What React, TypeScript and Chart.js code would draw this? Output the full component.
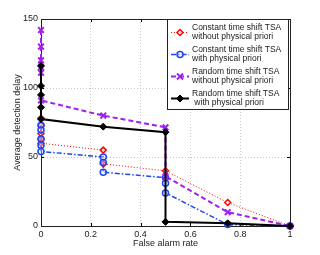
import React, { useEffect, useRef } from "react";
import { Chart, registerables } from "chart.js";

Chart.register(...registerables);

const xTicks = [0, 0.2, 0.4, 0.6, 0.8, 1];
const yTicks = [0, 50, 100, 150];

const seriesNames = [
  ["Constant time shift TSA", "without physical priori"],
  ["Constant time shift TSA", "with physical priori"],
  ["Random time shift TSA", "without physical priori"],
  ["Random time shift TSA", " with physical priori"],
];

const redX = [0, 0, 0, 0, 0, 0.25, 0.25, 0.5, 0.75, 1];
const redY = [78, 73, 67, 63, 60, 55, 45, 40, 17, 0];

const blueX = [0, 0, 0, 0, 0, 0.25, 0.25, 0.25, 0.5, 0.5, 0.5, 0.75, 1];
const blueY = [73, 69.5, 63, 58.5, 54, 50, 46, 39, 35, 31, 24, 1, 0];

const purpleX = [0, 0, 0, 0, 0, 0, 0.25, 0.5, 0.5, 0.75, 1];
const purpleY = [142, 130, 120, 115, 111, 91, 80, 71.5, 36, 10, 0];

const blackX = [0, 0, 0, 0, 0, 0.25, 0.5, 0.5, 0.75, 1];
const blackY = [116, 101.5, 95, 86, 77.5, 72, 68, 3, 2, 0];

const FONT = "'Liberation Sans', Arial, Helvetica, sans-serif";

const zip = (xs: number[], ys: number[]) => xs.map((x, i) => ({ x, y: ys[i] }));

const RED = "rgb(255,0,0)";
const BLUE = "rgb(30,70,240)";
const PURPLE = "rgb(160,32,240)";
const BLACK = "rgb(0,0,0)";

function drawMarker(ctx: CanvasRenderingContext2D, style: string, x: number, y: number, r: number, color: string, fill: string, lw: number) {
  ctx.save();
  ctx.setLineDash([]);
  ctx.strokeStyle = color;
  ctx.fillStyle = fill;
  ctx.lineWidth = lw;
  ctx.beginPath();
  if (style === "rectRot") {
    ctx.moveTo(x, y - r);
    ctx.lineTo(x + r, y);
    ctx.lineTo(x, y + r);
    ctx.lineTo(x - r, y);
    ctx.closePath();
    ctx.fill();
    ctx.stroke();
  } else if (style === "circle") {
    ctx.arc(x, y, r, 0, Math.PI * 2);
    ctx.fill();
    ctx.stroke();
  } else if (style === "crossRot") {
    const d = r * 0.75;
    ctx.moveTo(x - d, y - d);
    ctx.lineTo(x + d, y + d);
    ctx.moveTo(x + d, y - d);
    ctx.lineTo(x - d, y + d);
    ctx.stroke();
  }
  ctx.restore();
}

const framePlugin = {
  id: "frame",
  beforeDatasetsDraw(chart: any) {
    const ctx: CanvasRenderingContext2D = chart.ctx;
    const { left, right, top, bottom } = chart.chartArea;
    const xs = chart.scales.x;
    const ys = chart.scales.y;
    ctx.save();
    ctx.strokeStyle = "#000";
    ctx.lineWidth = 1;
    ctx.beginPath();
    xTicks.forEach((t) => {
      const px = Math.round(xs.getPixelForValue(t)) + 0.5;
      ctx.moveTo(px, bottom);
      ctx.lineTo(px, bottom - 3);
      ctx.moveTo(px, top);
      ctx.lineTo(px, top + 3);
    });
    yTicks.forEach((t) => {
      const py = Math.round(ys.getPixelForValue(t)) + 0.5;
      ctx.moveTo(left, py);
      ctx.lineTo(left + 3, py);
      ctx.moveTo(right, py);
      ctx.lineTo(right - 3, py);
    });
    ctx.stroke();
    ctx.strokeStyle = "#222";
    ctx.strokeRect(Math.round(left) + 0.5, Math.round(top) + 0.5, Math.round(right - left), Math.round(bottom - top));
    ctx.restore();
  },
  afterDraw(chart: any) {
    const ctx: CanvasRenderingContext2D = chart.ctx;
    ctx.save();
    const lx = 167, ly = 19, lw = 121, lh = 90;
    ctx.fillStyle = "#fff";
    ctx.fillRect(lx, ly, lw, lh);
    ctx.strokeStyle = "#222";
    ctx.lineWidth = 1;
    ctx.strokeRect(lx + 0.5, ly + 0.5, lw, lh);
    chart.data.datasets.forEach((ds: any, i: number) => {
      const cy = 32.5 + 22 * i;
      ctx.save();
      ctx.strokeStyle = ds.borderColor;
      ctx.lineWidth = ds.borderWidth;
      ctx.setLineDash(ds.borderDash || []);
      ctx.beginPath();
      ctx.moveTo(171, cy);
      ctx.lineTo(189, cy);
      ctx.stroke();
      ctx.restore();
      drawMarker(ctx, ds.pointStyle, 180, cy, ds.pointRadius, ds.pointBorderColor, ds.pointBackgroundColor, ds.pointBorderWidth);
      ctx.fillStyle = "#222";
      ctx.font = `8.5px ${FONT}`;
      ctx.textBaseline = "middle";
      ctx.textAlign = "left";
      const names = seriesNames[i];
      ctx.fillText(names[0], 192, cy - 4.5);
      ctx.fillText(names[1], 192, cy + 4.5);
    });
    ctx.restore();
  },
};

export default function App() {
  const ref = useRef<HTMLCanvasElement>(null);
  useEffect(() => {
    if (!ref.current) return;
    const chart = new Chart(ref.current, {
      type: "scatter",
      data: {
        datasets: [
          {
            label: seriesNames[0].join(" "),
            data: zip(redX, redY),
            showLine: true,
            clip: false,
            borderColor: RED,
            borderWidth: 1,
            borderDash: [1, 2],
            pointStyle: "rectRot",
            pointRadius: 3,
            pointBorderColor: RED,
            pointBackgroundColor: "rgba(255,255,255,0.6)",
            pointBorderWidth: 1.5,
            order: 4,
          },
          {
            label: seriesNames[1].join(" "),
            data: zip(blueX, blueY),
            showLine: true,
            clip: false,
            borderColor: BLUE,
            borderWidth: 1.5,
            borderDash: [5, 2, 1.5, 2],
            pointStyle: "circle",
            pointRadius: 3,
            pointBorderColor: BLUE,
            pointBackgroundColor: "rgba(255,255,255,0.3)",
            pointBorderWidth: 1.5,
            order: 3,
          },
          {
            label: seriesNames[2].join(" "),
            data: zip(purpleX, purpleY),
            showLine: true,
            clip: false,
            borderColor: PURPLE,
            borderWidth: 2,
            borderDash: [5, 3],
            pointStyle: "crossRot",
            pointRadius: 4,
            pointBorderColor: PURPLE,
            pointBackgroundColor: PURPLE,
            pointBorderWidth: 2,
            order: 2,
          },
          {
            label: seriesNames[3].join(" "),
            data: zip(blackX, blackY),
            showLine: true,
            clip: false,
            borderColor: BLACK,
            borderWidth: 2,
            pointStyle: "rectRot",
            pointRadius: 3.5,
            pointBorderColor: BLACK,
            pointBackgroundColor: BLACK,
            pointBorderWidth: 1,
            order: 1,
          },
        ],
      },
      options: {
        responsive: false,
        animation: false,
        events: [],
        layout: { padding: { top: 19, right: 30, left: 0, bottom: 0 } },
        plugins: { legend: { display: false }, tooltip: { enabled: false } },
        scales: {
          x: {
            type: "linear",
            min: 0,
            max: 1,
            afterFit: (s: any) => { s.height = 29; },
            afterBuildTicks: (s: any) => { s.ticks = xTicks.map((v) => ({ value: v })); },
            ticks: {
              padding: 3,
              color: "#222",
              font: { family: FONT, size: 9 },
              callback: (v: any) => String(Number(v)),
              maxRotation: 0,
            },
            grid: { color: "#c8c8c8", lineWidth: 1, drawTicks: false },
            border: { display: false, dash: [1, 2] },
            title: { display: true, text: "False alarm rate", color: "#222", font: { family: FONT, size: 9 }, padding: { top: 0, bottom: 6 } },
          },
          y: {
            min: 0,
            max: 150,
            afterFit: (s: any) => { s.width = 41; },
            afterBuildTicks: (s: any) => { s.ticks = yTicks.map((v) => ({ value: v })); },
            ticks: {
              padding: 3,
              color: "#222",
              font: { family: FONT, size: 9 },
            },
            grid: { color: "#c8c8c8", lineWidth: 1, drawTicks: false },
            border: { display: false, dash: [1, 2] },
            title: { display: true, text: "Average detection delay", color: "#222", font: { family: FONT, size: 9 }, padding: { top: 12, bottom: 0 } },
          },
        },
      },
      plugins: [framePlugin],
    } as any);
    return () => chart.destroy();
  }, []);
  return (
    <div style={{ position: "absolute", left: 0, top: 0, width: 320, height: 255, background: "#fff" }}>
      <canvas ref={ref} width={320} height={255} style={{ display: "block" }} />
    </div>
  );
}
